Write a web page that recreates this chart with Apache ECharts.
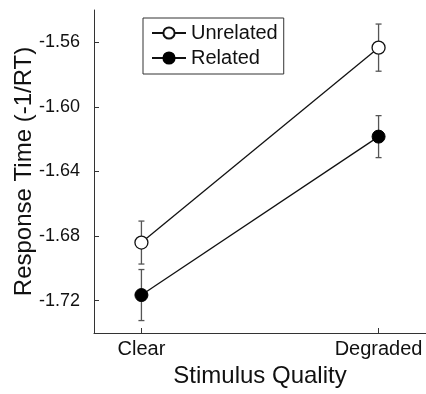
<!DOCTYPE html>
<html>
<head>
<meta charset="utf-8">
<script src="https://cdn.jsdelivr.net/npm/echarts@6/dist/echarts.min.js"></script>
<style>
  html, body { margin: 0; padding: 0; background: #fff; }
  #chart { width: 426px; height: 394px; }
</style>
</head>
<body>
<div id="chart"></div>
<script>
// 数据
var categories = ['Clear', 'Degraded'];
var unrelated = [-1.684, -1.5633];
var unrelatedErr = [0.0133, 0.0146];
var related = [-1.7165, -1.6184];
var relatedErr = [0.0158, 0.013];
var yTicks = [-1.72, -1.68, -1.64, -1.60, -1.56];

(function () {
    var FONT = 'Liberation Sans, Arial, Helvetica, sans-serif';
    var myChart = echarts.init(document.getElementById('chart'));

    // 把数组转成 [x, y] 点，x 为类别序号 1,2
    function toPoints(vals) {
        return vals.map(function (v, i) { return [i + 1, v]; });
    }
    function toErr(vals, errs) {
        return vals.map(function (v, i) { return [i + 1, v, errs[i]]; });
    }

    // 误差线
    function renderErr(params, api) {
        var x = api.value(0), y = api.value(1), e = api.value(2);
        var top = api.coord([x, y + e]);
        var bot = api.coord([x, y - e]);
        var w = 3;
        var style = { stroke: '#555', lineWidth: 1.3 };
        return {
            type: 'group',
            children: [
                { type: 'line', shape: { x1: top[0], y1: top[1], x2: bot[0], y2: bot[1] }, style: style },
                { type: 'line', shape: { x1: top[0] - w, y1: top[1], x2: top[0] + w, y2: top[1] }, style: style },
                { type: 'line', shape: { x1: bot[0] - w, y1: bot[1], x2: bot[0] + w, y2: bot[1] }, style: style }
            ]
        };
    }

    var option = {
        animation: false,
        textStyle: { fontFamily: FONT },
        grid: {
            left: 94,
            right: 0,
            top: 10,
            bottom: 61,
            outerBoundsMode: 'none'
        },
        legend: {
            orient: 'vertical',
            left: 143,
            top: 18,
            padding: [4, 6, 5, 8],
            itemWidth: 34,
            itemHeight: 14,
            itemGap: 3,
            borderColor: '#333',
            borderWidth: 1,
            textStyle: { fontSize: 20, color: '#111', fontFamily: FONT, lineHeight: 22 },
            data: ['Unrelated', 'Related']
        },
        xAxis: {
            type: 'value',
            min: 0.8,
            max: 2.2,
            name: 'Stimulus Quality',
            nameLocation: 'middle',
            nameGap: 31,
            nameMoveOverlap: false,
            nameTextStyle: { fontSize: 24, color: '#111', fontFamily: FONT },
            axisLine: { lineStyle: { color: '#333', width: 1 } },
            axisTick: { inside: true, length: 5, lineStyle: { color: '#333' }, customValues: [1, 2] },
            axisLabel: {
                customValues: [1, 2],
                fontSize: 20,
                color: '#111',
                margin: 6,
                formatter: function (v) { return categories[Math.round(v) - 1]; }
            },
            splitLine: { show: false }
        },
        yAxis: {
            type: 'value',
            min: -1.74,
            max: -1.54,
            name: 'Response Time (-1/RT)',
            nameLocation: 'middle',
            nameGap: 58,
            nameMoveOverlap: false,
            nameTextStyle: { fontSize: 24, color: '#111', fontFamily: FONT },
            axisLine: { show: true, lineStyle: { color: '#333', width: 1 } },
            axisTick: { show: true, inside: true, length: 5, lineStyle: { color: '#333' }, customValues: yTicks },
            axisLabel: {
                customValues: yTicks,
                fontSize: 18,
                color: '#111',
                margin: 14,
                formatter: function (v) { return v.toFixed(2); }
            },
            splitLine: { show: false }
        },
        series: [
            {
                type: 'custom',
                name: 'errU',
                renderItem: renderErr,
                data: toErr(unrelated, unrelatedErr),
                z: 1
            },
            {
                type: 'custom',
                name: 'errR',
                renderItem: renderErr,
                data: toErr(related, relatedErr),
                z: 1
            },
            {
                name: 'Unrelated',
                type: 'line',
                data: toPoints(unrelated),
                symbol: 'circle',
                symbolSize: 13,
                lineStyle: { color: '#111', width: 1.3 },
                itemStyle: { color: '#fff', borderColor: '#111', borderWidth: 1.3 },
                z: 3
            },
            {
                name: 'Related',
                type: 'line',
                data: toPoints(related),
                symbol: 'circle',
                symbolSize: 13,
                lineStyle: { color: '#111', width: 1.3 },
                itemStyle: { color: '#000', borderColor: '#000', borderWidth: 1 },
                z: 3
            }
        ]
    };

    myChart.setOption(option);
    window.addEventListener('resize', function () {
        myChart.resize();
    });
})();
</script>
</body>
</html>
